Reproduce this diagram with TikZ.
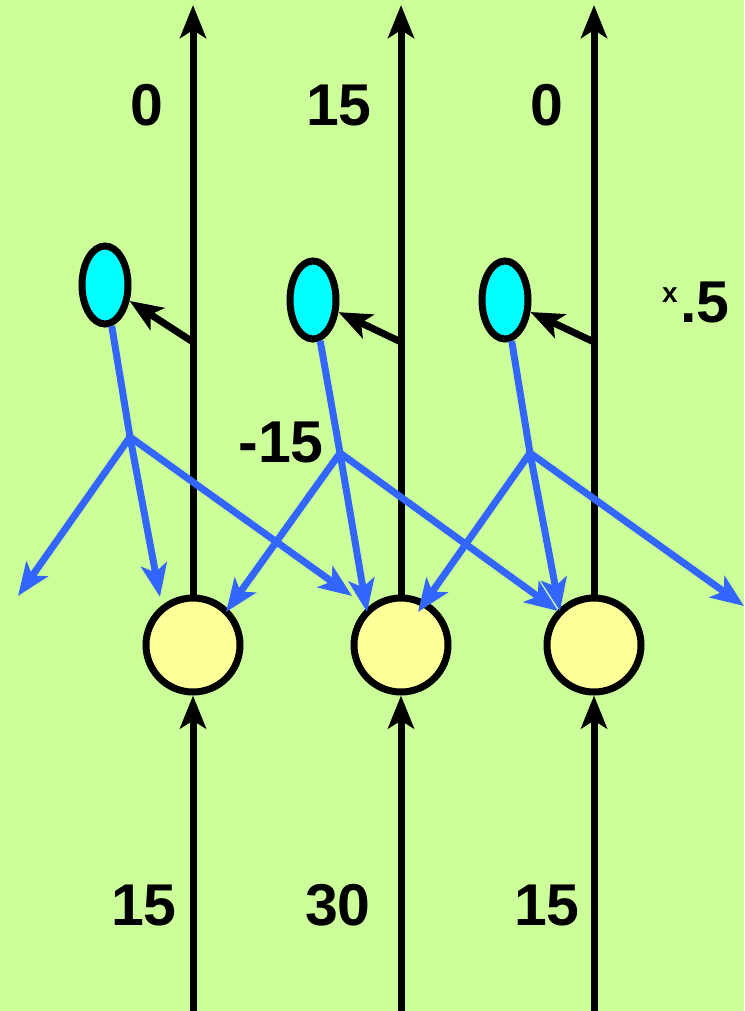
\documentclass[tikz,border=0pt]{standalone}
\usepackage{fontspec}
\setmainfont{Liberation Sans}
\usetikzlibrary{
  arrows.meta, % For arrow tips
  shapes.geometric % For the ellipses
}
\definecolor{leaf}{HTML}{CCFF99}
\definecolor{cell}{HTML}{FFFF99}
\definecolor{inhib}{HTML}{00FFFF}
\definecolor{wire}{HTML}{3366FF}

\begin{document}
\begin{tikzpicture}[
    x=1pt, y=-1pt, % Pixel units, y pointing down
    line width=7pt, % Default line thickness
    >={Stealth[length=33pt, width=26pt, inset=8pt]}, % Default arrow tip
    neuron/.style={circle, draw, fill=cell, minimum size=94pt, inner sep=0pt}, % Style for the main cells
    inter/.style={ellipse, draw, fill=inhib, minimum width=46pt, minimum height=78pt, inner sep=0pt}, % Style for the small cells
    lateral/.style={wire, ->}, % Style for the blue lines
    num/.style={font=\fontsize{59}{62}\selectfont\bfseries, inner sep=0pt}, % Style for the numbers
  ]

    % Hintergrund
    \fill[leaf] (0,0) rectangle (744,1011);
    \useasboundingbox (0,0) rectangle (744,1011);

    % Spalten
    \foreach \i/\x/\ex/\ey in {1/193/105/285, 2/401/313/300, 3/594/505/300} {
      \node[neuron] (c\i) at (\x,645) {};
      \node[inter] (e\i) at (\ex,\ey) {};
      \coordinate (top\i) at (\x,5);
      \coordinate (bot\i) at (\x,1011);
      \coordinate (tap\i) at (\x,342);
      \draw[->] (c\i) -- (top\i);
      \draw[->] (bot\i) -- (c\i);
      \draw[->] (tap\i) -- (e\i);
    }

    % Verzweigungen
    \coordinate (b1) at (130,437);
    \coordinate (b2) at (340,453);
    \coordinate (b3) at (530,453);

    % Pfeilspitzen
    \coordinate (l1) at (18,596);
    \coordinate (d1) at (160,597);
    \coordinate (r1) at (352,596);
    \coordinate (l2) at (226,612);
    \coordinate (d2) at (367,612);
    \coordinate (r2) at (558,611);
    \coordinate (l3) at (418,612);
    \coordinate (d3) at (560,611);
    \coordinate (r3) at (744,606);

    \foreach \i in {1,2,3} {
      \draw[wire] (e\i) -- (b\i);
      \foreach \t in {l,d,r}
      \draw[lateral] (b\i) -- (\t\i);
    }

    % Zahlen
    \node[num] (out1) at (147,105) {0};
    \node[num] (out2) at (339,105) {15};
    \node[num] (out3) at (547,105) {0};
    \node[num] (in1) at (144,905) {15};
    \node[num] (in2) at (338,905) {30};
    \node[num] (in3) at (547,905) {15};
    \node[num] (weight) at (281,442) {-15};
    \node[num] (gain) at (705,302) {.5};
    \node[font=\fontsize{28}{30}\selectfont\bfseries, inner sep=0pt] (times) at (670,295) {x};

  \end{tikzpicture}
\end{document}
